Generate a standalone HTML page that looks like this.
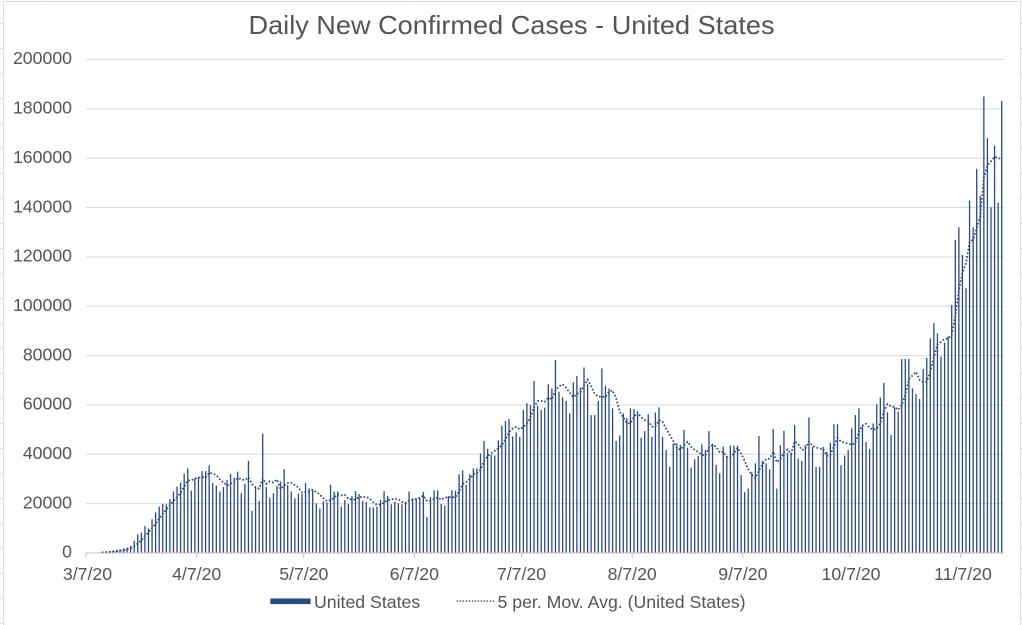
<!DOCTYPE html>
<html>
<head>
<meta charset="utf-8">
<style>
html,body{margin:0;padding:0;background:#fff;width:1023px;height:625px;overflow:hidden}
svg{display:block}
</style>
</head>
<body>
<svg id="c" width="1023" height="625" viewBox="0 0 1023 625" xmlns="http://www.w3.org/2000/svg" font-family="'Liberation Sans', Arial, Helvetica, sans-serif">
  <rect x="0" y="0" width="1023" height="625" fill="#fff"/>
  <!-- spreadsheet frame -->
  <g stroke="#dedede" stroke-width="1" fill="none">
    <line x1="3.5" y1="1.5" x2="1020.5" y2="1.5"/>
    <line x1="3.5" y1="1.5" x2="3.5" y2="625"/>
    <line x1="1020.5" y1="1.5" x2="1020.5" y2="625"/>
    <line x1="40.5" y1="0" x2="40.5" y2="1.5"/>
    <line x1="275.5" y1="0" x2="275.5" y2="1.5"/>
    <line x1="414.5" y1="0" x2="414.5" y2="1.5"/>
    <line x1="533.5" y1="0" x2="533.5" y2="1.5"/>
    <path d="M0 23.5H3.5M0 48.5H3.5M0 73.5H3.5M0 98.5H3.5M0 123.5H3.5M0 148.5H3.5M0 173.5H3.5M0 198.5H3.5M0 223.5H3.5M0 248.5H3.5M0 273.5H3.5M0 298.5H3.5M0 323.5H3.5M0 348.5H3.5M0 373.5H3.5M0 398.5H3.5M0 423.5H3.5M0 448.5H3.5M0 473.5H3.5M0 498.5H3.5M0 523.5H3.5M0 548.5H3.5M0 573.5H3.5M0 598.5H3.5M0 623.5H3.5"/>
    <path d="M1020.5 23.5H1023M1020.5 48.5H1023M1020.5 73.5H1023M1020.5 98.5H1023M1020.5 123.5H1023M1020.5 148.5H1023M1020.5 173.5H1023M1020.5 198.5H1023M1020.5 223.5H1023M1020.5 248.5H1023M1020.5 273.5H1023M1020.5 298.5H1023M1020.5 323.5H1023M1020.5 348.5H1023M1020.5 373.5H1023M1020.5 398.5H1023M1020.5 423.5H1023M1020.5 448.5H1023M1020.5 473.5H1023M1020.5 498.5H1023M1020.5 523.5H1023M1020.5 548.5H1023M1020.5 568.5H1023M1020.5 593.5H1023M1020.5 618.5H1023"/>
  </g>

  <!-- title -->
  <text x="511.5" y="34" text-anchor="middle" font-size="26" fill="#555" textLength="526" lengthAdjust="spacingAndGlyphs">Daily New Confirmed Cases - United States</text>

  <!-- gridlines -->
  <g stroke="#dadada" stroke-width="1">
    <line x1="86" y1="503.65" x2="1003.5" y2="503.65"/>
    <line x1="86" y1="454.3" x2="1003.5" y2="454.3"/>
    <line x1="86" y1="404.95" x2="1003.5" y2="404.95"/>
    <line x1="86" y1="355.6" x2="1003.5" y2="355.6"/>
    <line x1="86" y1="306.25" x2="1003.5" y2="306.25"/>
    <line x1="86" y1="256.9" x2="1003.5" y2="256.9"/>
    <line x1="86" y1="207.55" x2="1003.5" y2="207.55"/>
    <line x1="86" y1="158.2" x2="1003.5" y2="158.2"/>
    <line x1="86" y1="108.85" x2="1003.5" y2="108.85"/>
    <line x1="86" y1="59.5" x2="1003.5" y2="59.5"/>
  </g>

  <!-- y labels -->
  <g font-size="17.7" fill="#555" text-anchor="end">
    <text x="72" y="557.7">0</text>
    <text x="72" y="508.35">20000</text>
    <text x="72" y="459">40000</text>
    <text x="72" y="409.65">60000</text>
    <text x="72" y="360.3">80000</text>
    <text x="72" y="310.95">100000</text>
    <text x="72" y="261.6">120000</text>
    <text x="72" y="212.25">140000</text>
    <text x="72" y="162.9">160000</text>
    <text x="72" y="113.55">180000</text>
    <text x="72" y="64.2">200000</text>
  </g>

  <!-- bars and moving average (generated) -->
  <path id="bars" d="" stroke="#2a4a80" stroke-width="1.3" fill="none"/>
  <path id="ma" d="" stroke="#2a4a80" stroke-width="1.7" stroke-dasharray="1.7 1.9" fill="none"/>

  <!-- x axis -->
  <line x1="86" y1="553" x2="1003.5" y2="553" stroke="#c4c4c4" stroke-width="1"/>
  <g stroke="#c4c4c4" stroke-width="1">
    <line x1="86" y1="553" x2="86" y2="558"/>
    <line x1="196.7" y1="553" x2="196.7" y2="558"/>
    <line x1="303.8" y1="553" x2="303.8" y2="558"/>
    <line x1="414.4" y1="553" x2="414.4" y2="558"/>
    <line x1="521.5" y1="553" x2="521.5" y2="558"/>
    <line x1="632.2" y1="553" x2="632.2" y2="558"/>
    <line x1="742.9" y1="553" x2="742.9" y2="558"/>
    <line x1="850" y1="553" x2="850" y2="558"/>
    <line x1="960.7" y1="553" x2="960.7" y2="558"/>
  </g>
  <g font-size="17.7" fill="#555" text-anchor="middle">
    <text x="87.5" y="580">3/7/20</text>
    <text x="196.7" y="580">4/7/20</text>
    <text x="303.8" y="580">5/7/20</text>
    <text x="414.4" y="580">6/7/20</text>
    <text x="521.5" y="580">7/7/20</text>
    <text x="632.2" y="580">8/7/20</text>
    <text x="742.9" y="580">9/7/20</text>
    <text x="851" y="580">10/7/20</text>
    <text x="963" y="580">11/7/20</text>
  </g>

  <!-- legend -->
  <rect x="270.3" y="598.5" width="40.3" height="5.6" fill="#2a4a80"/>
  <text x="314" y="608" font-size="17.7" fill="#555">United States</text>
  <line x1="456.7" y1="601.1" x2="495" y2="601.1" stroke="#2a4a80" stroke-width="1.4" stroke-dasharray="1.4 1.6"/>
  <text x="497.5" y="608" font-size="17.7" fill="#555">5 per. Mov. Avg. (United States)</text>
</svg>
<script>
(function(){
var d=[0.1,0.15,0.2,0.3,0.4,0.5,0.7,0.9,1.1,1.4,1.8,2.2,2.9,5.0,7.6,8.3,10.9,10.0,13.7,16.5,18.8,19.9,19.7,21.9,24.9,26.9,28.6,32.1,34.3,25.3,30.3,30.7,33.2,33.2,35.5,28.3,27.3,24.9,26.7,29.6,32.0,30.6,33.0,24.2,28.0,37.4,17.1,26.8,21.1,48.4,26.7,22.4,24.2,27.2,29.0,34.0,27.6,24.9,22.2,24.1,23.9,28.3,26.2,25.4,20.1,18.0,
21,20.5,27.6,24.9,24.9,18.8,21.5,19.9,23.1,25.1,23.9,21.2,20.7,18.5,18.5,18.8,21.5,25.1,23.1,19.7,20.8,20.1,19.7,20.8,24.9,22.2,22.2,22.2,24.7,14.6,22.6,25.4,25.4,19.9,19.2,23.0,25.5,25.3,31.9,33.5,27.6,31.9,34.3,34.3,40.3,45.4,42.2,39.7,39.5,45.7,51.6,53.5,54.3,47.2,48.9,47.0,58.0,60.7,60.0,69.7,59.7,58.0,58.9,68.4,66.7,
78.2,65.4,63,61.6,56.6,69.2,71.7,67,75.2,68.4,55.9,55.9,61.6,74.8,67.8,66.7,58.6,45.4,47.6,56.6,54.6,58.6,58.4,56.6,46.7,49.4,56.2,47.1,57,59,47,41.7,35,44.4,44.4,43.8,49.9,42.7,34.6,38,39.4,44,41.7,49.4,44.4,35.7,32.3,43.1,39.4,43.5,43.5,43.5,31.6,24.6,26.2,32.6,36.3,47.4,37.3,36.3,33.9,50.3,
26.1,43.7,49.5,40.6,40.6,51.8,38.3,37.3,43.7,54.9,43,34.9,34.9,43,41,44.6,52.2,52.2,35.6,39.4,41.7,50.5,55.9,58.6,51.8,45,42.1,52.5,60.3,63,69,57,47.8,59,57.2,78.6,78.6,78.6,66.7,64.4,62.4,74.5,79.1,87,93.1,89,79.6,85.2,87.7,100.5,
126.9,132,120.8,107.3,142.8,131.9,155.7,144.7,185,168.1,140.1,165.1,142,183.2];
var s='',m='';
for(var i=0;i<d.length;i++){
  var x=86+3.57*(i+0.5), y=553-d[i]*2.4675;
  s+='M'+x.toFixed(2)+' 553V'+y.toFixed(2);
  if(i>=4){
    var a=(d[i]+d[i-1]+d[i-2]+d[i-3]+d[i-4])/5;
    m+=(i==4?'M':'L')+x.toFixed(2)+' '+(553-a*2.4675).toFixed(2);
  }
}
document.getElementById('bars').setAttribute('d',s);
document.getElementById('ma').setAttribute('d',m);
})();
</script>
</body>
</html>
